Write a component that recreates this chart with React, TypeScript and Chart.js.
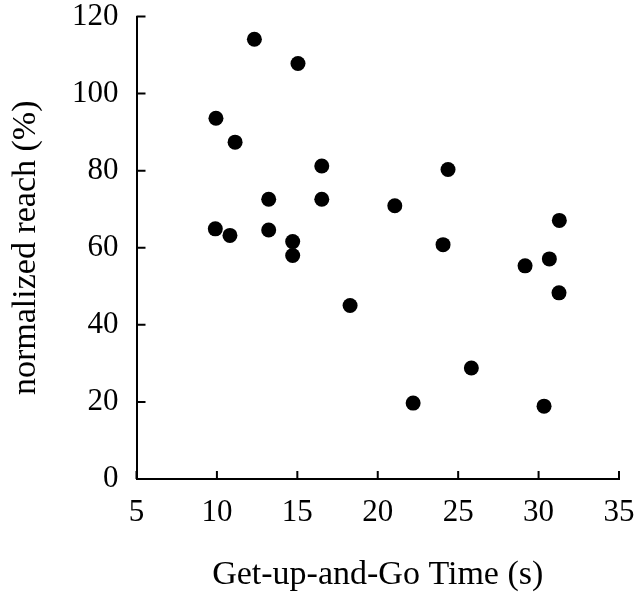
import React, { useEffect, useRef } from "react";
import { Chart, registerables } from "chart.js";

Chart.register(...registerables);

const xValues = [12.33, 15.04, 9.94, 11.13, 16.52, 13.22, 16.52, 9.9, 10.81, 13.22, 14.71, 14.71, 24.37, 21.06, 31.29, 24.06, 30.67, 29.16, 31.27, 18.28, 25.82, 22.2, 30.34];
const yValues = [114.1, 107.8, 93.6, 87.4, 81.2, 72.6, 72.6, 64.9, 63.2, 64.6, 61.6, 58.0, 80.3, 70.9, 67.1, 60.8, 57.1, 55.3, 48.3, 45.0, 28.8, 19.7, 18.9];
const xTitle = "Get-up-and-Go Time (s)";
const yTitle = "normalized reach (%)";

const FONT = '"Liberation Serif", "Times New Roman", serif';

const innerTicks = {
  id: "innerTicks",
  afterDraw(chart: any) {
    const { ctx, chartArea } = chart;
    const xs = chart.scales.x;
    const ys = chart.scales.y;
    ctx.save();
    ctx.strokeStyle = "#000";
    ctx.lineWidth = 2;
    ctx.beginPath();
    xs.ticks.forEach((_t: any, i: number) => {
      const px = xs.getPixelForTick(i);
      ctx.moveTo(px, chartArea.bottom);
      ctx.lineTo(px, chartArea.bottom - 8);
    });
    ys.ticks.forEach((_t: any, i: number) => {
      const py = ys.getPixelForTick(i);
      ctx.moveTo(chartArea.left, py);
      ctx.lineTo(chartArea.left + 9, py);
    });
    ctx.stroke();
    ctx.restore();
  },
};

export default function App() {
  const ref = useRef<HTMLCanvasElement | null>(null);
  useEffect(() => {
    document.body.style.margin = "0";
    const canvas = ref.current!;
    const points = xValues.map((x, i) => ({ x, y: yValues[i] }));
    const chart = new Chart(canvas, {
      type: "scatter",
      data: {
        datasets: [
          {
            data: points,
            backgroundColor: "#000",
            borderWidth: 0,
            pointRadius: 7.5,
            pointHoverRadius: 7.5,
          },
        ],
      },
      options: {
        responsive: false,
        animation: false,
        layout: { padding: { left: 0, right: 22, top: 16.5, bottom: 0 } },
        plugins: { legend: { display: false }, tooltip: { enabled: false } },
        scales: {
          x: {
            type: "linear",
            min: 5,
            max: 35,
            afterFit: (s: any) => {
              s.height = 121;
              s.paddingLeft = 0;
              s.paddingRight = 0;
            },
            grid: { display: false, drawTicks: false },
            border: { display: true, color: "#000", width: 2 },
            ticks: {
              stepSize: 5,
              color: "#000",
              padding: 18,
              font: { family: FONT, size: 31, lineHeight: 1 },
            },
            title: {
              display: true,
              text: xTitle,
              color: "#000",
              font: { family: FONT, size: 34 },
              padding: { top: 0, bottom: 5 },
            },
          },
          y: {
            type: "linear",
            min: 0,
            max: 120,
            afterFit: (s: any) => {
              s.width = 136.5;
              s.paddingTop = 0;
              s.paddingBottom = 0;
            },
            grid: { display: false, drawTicks: false },
            border: { display: true, color: "#000", width: 2 },
            ticks: {
              stepSize: 20,
              color: "#000",
              padding: 18,
              font: { family: FONT, size: 31, lineHeight: 1 },
            },
            title: {
              display: true,
              text: yTitle,
              color: "#000",
              font: { family: FONT, size: 34 },
              padding: { top: 6, bottom: 0 },
            },
          },
        },
      },
      plugins: [innerTicks],
    });
    return () => chart.destroy();
  }, []);
  return <canvas ref={ref} width={641} height={600} style={{ display: "block" }} />;
}
